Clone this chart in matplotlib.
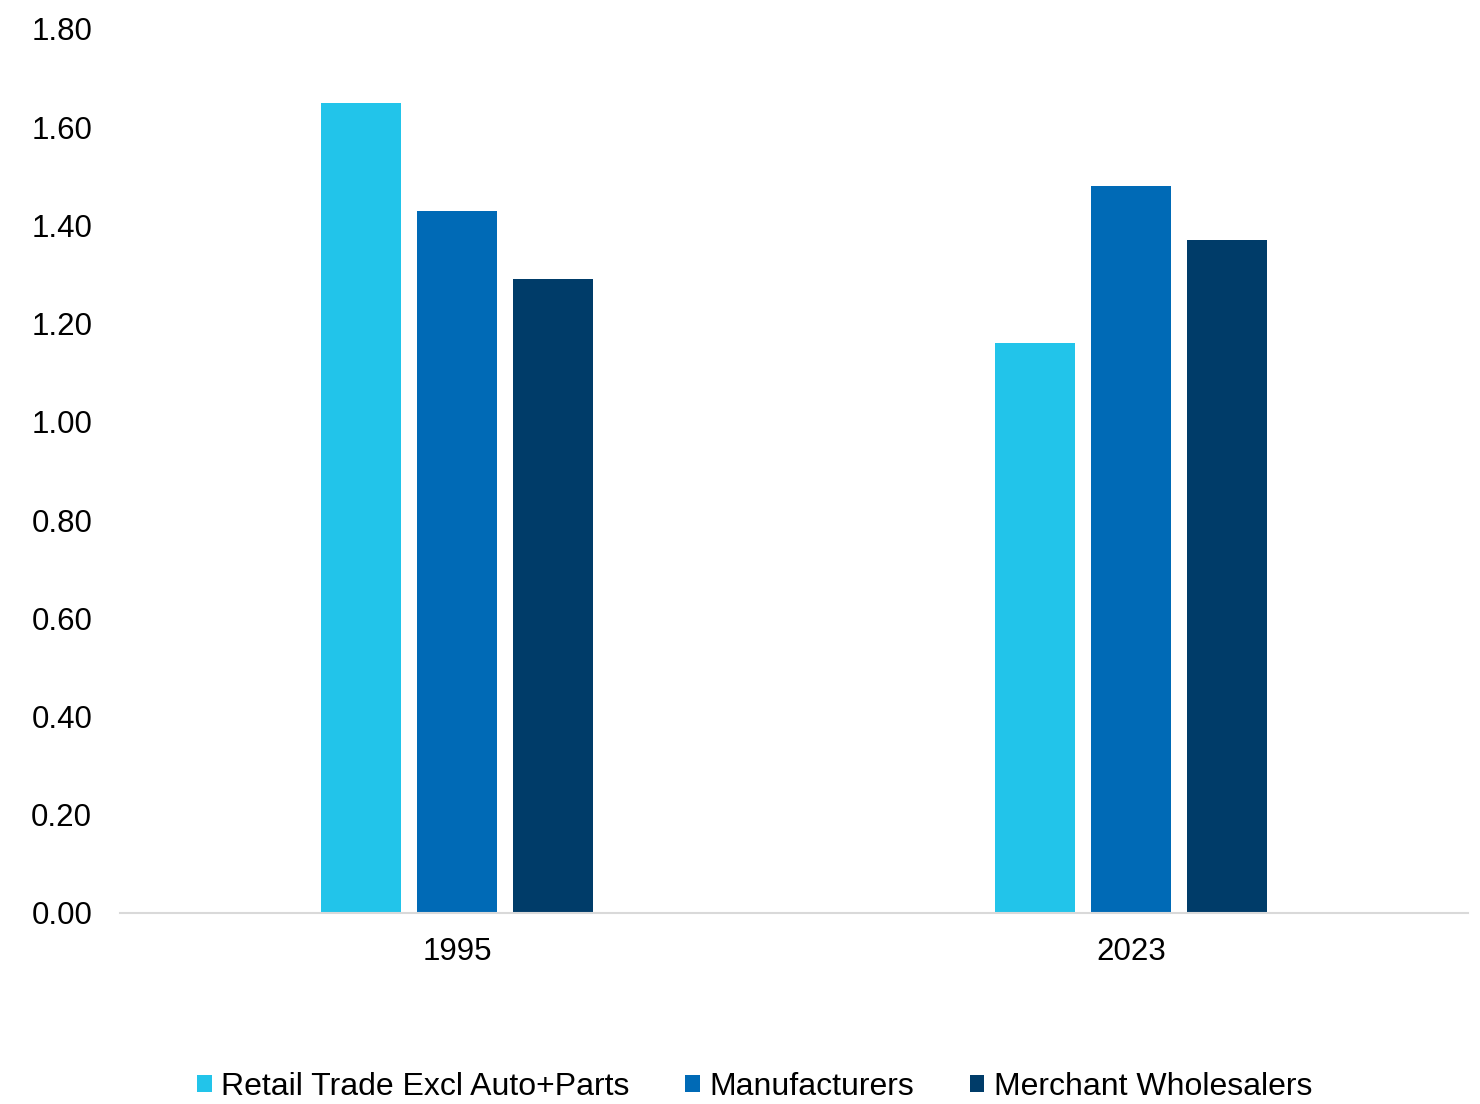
import numpy as np
import matplotlib.pyplot as plt

plt.rcParams['font.family'] = ['Liberation Sans', 'DejaVu Sans']

# Inventory-to-sales ratios by sector
years = ["1995", "2023"]
series = ["Retail Trade Excl Auto+Parts", "Manufacturers", "Merchant Wholesalers"]
retail = [1.65, 1.16]
manufacturers = [1.43, 1.48]
wholesalers = [1.29, 1.37]
colors = ["#22C4EA", "#006AB6", "#003C69"]

fig = plt.figure(figsize=(14.8, 11.04), dpi=100)
ax = fig.add_axes([120 / 1480, (1104 - 913) / 1104, (1468 - 120) / 1480, (913 - 29) / 1104])

x = np.arange(len(years))
width = 0.119
step = 0.1424
for i, (vals, name) in enumerate(zip([retail, manufacturers, wholesalers], series)):
    ax.bar(x + (i - 1) * step, vals, width, color=colors[i], label=name)

ax.set_xlim(-0.5, 1.5)
ax.set_ylim(0, 1.8)
ax.set_yticks(np.arange(0, 1.81, 0.2))
ax.set_yticklabels([f"{v:.2f}" for v in np.arange(0, 1.81, 0.2)])
ax.set_xticks(x)
ax.set_xticklabels(years)

for s in ["top", "right", "left"]:
    ax.spines[s].set_visible(False)
ax.spines["bottom"].set_color("#D9D9D9")
ax.spines["bottom"].set_linewidth(1.5)
ax.tick_params(axis="both", length=0, labelsize=22.5, colors="black")
ax.tick_params(axis="y", pad=20)
ax.tick_params(axis="x", pad=17)

fig.legend(loc="lower center", bbox_to_anchor=(0.51, -0.024), ncol=3, frameon=False,
           fontsize=23, handlelength=0.45, handleheight=0.45, handletextpad=0.3,
           columnspacing=1.75)

fig.savefig("out.png", dpi=100)
